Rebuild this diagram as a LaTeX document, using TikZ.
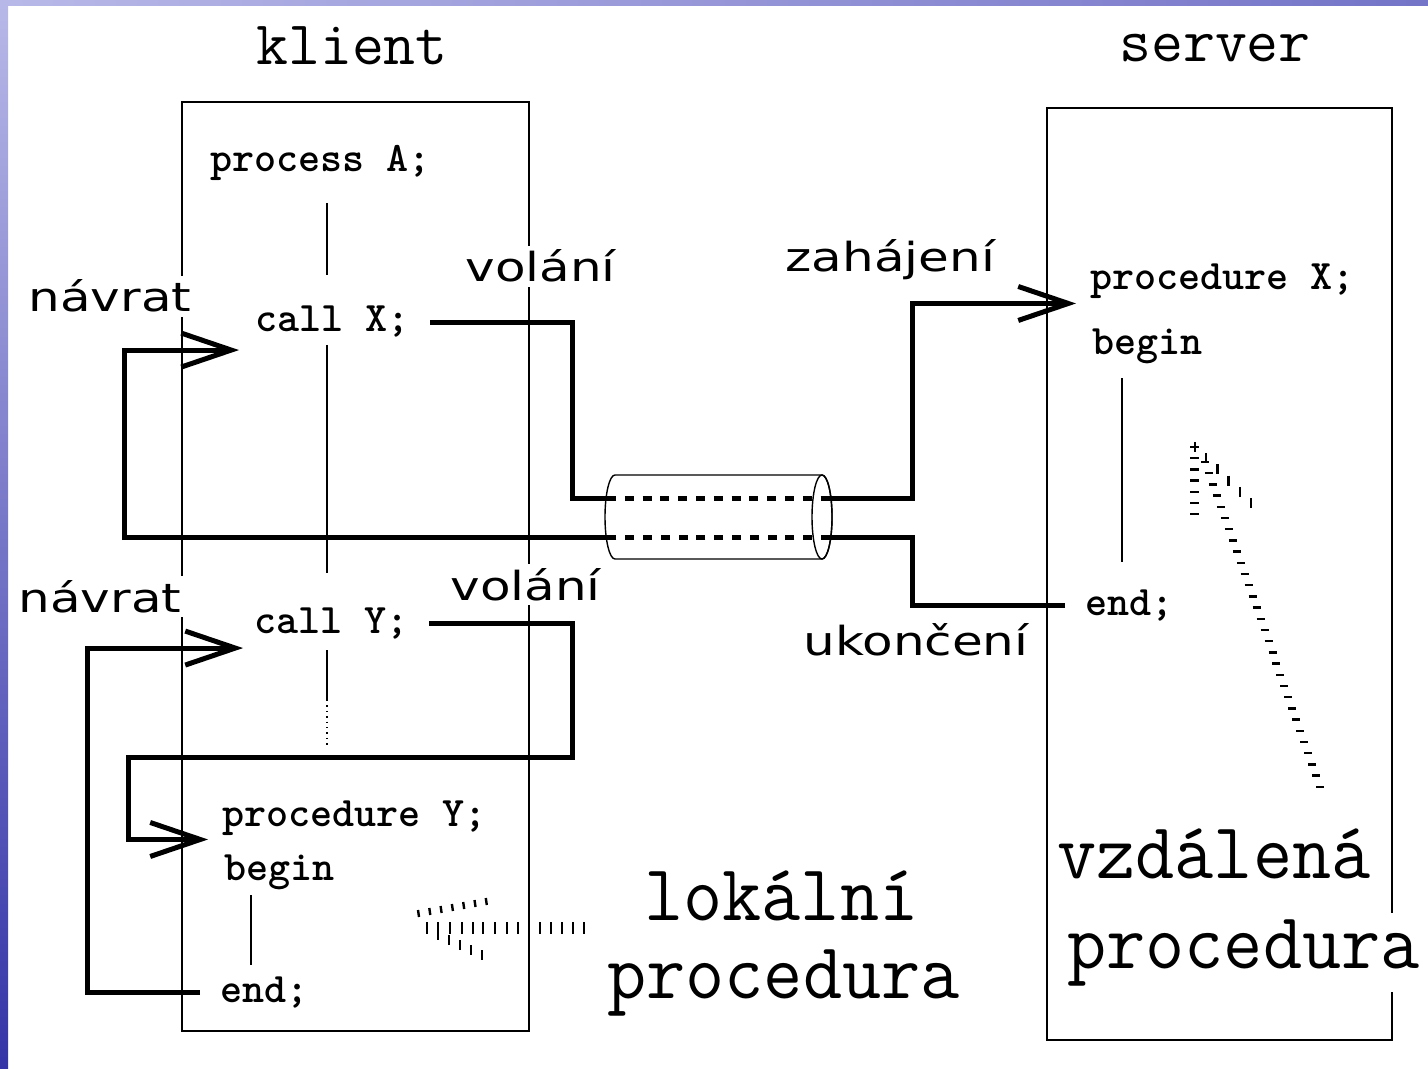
\documentclass[tikz,border=0pt]{standalone}
\usepackage{fontspec}
\usepackage{tikz}
\usetikzlibrary{arrows.meta}

\newfontfamily\labelfont{DejaVu Sans}
\definecolor{slidelight}{HTML}{B8B8E8}
\definecolor{slidedark}{HTML}{3434A8}
\definecolor{slidemid}{HTML}{7474C8}

\begin{document}
\begin{tikzpicture}[x=0.5pt, y=-0.5pt,
    code/.style={anchor=base west, inner sep=2pt, font=\fontsize{21}{25}\selectfont\ttfamily\bfseries},
    big/.style={anchor=base west, inner sep=0.5pt, yscale=1.05, font=\fontsize{38}{44}\selectfont\ttfamily},
    head/.style={anchor=base, font=\fontsize{31}{36}\selectfont\ttfamily},
    tag/.style={anchor=base west, inner sep=2pt, fill=white, xscale=1.25, font=\fontsize{20}{24}\selectfont\labelfont},
    box/.style={line width=0.75pt},
    life/.style={line width=0.7pt},
    flow/.style={line width=2.5pt, line join=miter},
    arr/.style={-{Straight Barb[length=25pt, width=17pt]}},
    pipe/.style={line width=2.5pt, dash pattern=on 4.5pt off 4.4pt},
    tick/.style={line width=1.2pt}
]
    \useasboundingbox (0,0) rectangle (1428,1069);

    % VORA DE LA DIAPOSITIVA
    \shade[top color=slidelight, bottom color=slidedark] (0,0) rectangle (8,1069);
    \shade[left color=slidelight, right color=slidemid] (0,0) rectangle (1428,6);

    % CAPCALERES
    \node[head] (klient) at (352,65) {klient};
    \node[head] (server) at (1215,62) {server};

    % CAIXES
    \draw[box] (182,102) rectangle (529,1031);
    \draw[box] (1047,108) rectangle (1392,1040);

    % CODI DEL CLIENT
    \node[code] (procA) at (206,172) {process A;};
    \node[code] (callX) at (251,332) {call X;};
    \node[code] (callY) at (250,633) {call Y;};
    \node[code] (procY) at (218,826) {procedure Y;};
    \node[code] (beginY) at (220,880) {begin};
    \node[code] (endY) at (216,1002) {end;};

    % CODI DEL SERVIDOR
    \node[code] (procX) at (1086,290) {procedure X;};
    \node[code] (beginX) at (1088,355) {begin};
    \node[code] (endX) at (1081,615) {end;};

    % LINIES DE VIDA
    \draw[life] (327,203) -- (327,275);
    \draw[life] (327,345) -- (327,573);
    \draw[life] (327,650) -- (327,700);
    \draw[life, dotted] (327,700) -- (327,745);
    \draw[life] (251,895) -- (251,965);
    \draw[life] (1122,378) -- (1122,562);

    % CANAL (cilindre)
    \draw[line width=0.7pt, fill=white] (615,475) -- (822,475)
        arc[start angle=-90, end angle=90, x radius=10, y radius=42] -- (615,559)
        arc[start angle=90, end angle=270, x radius=10, y radius=42] -- cycle;
    \draw[line width=0.7pt] (822,517) ellipse[x radius=10, y radius=42];

    % punts de pas
    \coordinate (xdown) at (572,498);
    \coordinate (pipeInA) at (607,498);
    \coordinate (pipeOutA) at (830,498);
    \coordinate (xup) at (912,498);
    \coordinate (xback) at (912,537);
    \coordinate (pipeOutB) at (830,537);
    \coordinate (pipeInB) at (607,537);
    \coordinate (xleft) at (124,537);
    \coordinate (ydown) at (572,757);
    \coordinate (yleft) at (128,757);
    \coordinate (yret) at (87,800);

    \draw[pipe] (pipeInA) -- (pipeOutA);
    \draw[pipe] (pipeOutB) -- (pipeInB);

    % CRIDA REMOTA
    \draw[flow] ([xshift=8pt]callX.east) -| (xdown) -- (pipeInA);
    \draw[flow, arr] (pipeOutA) -- (xup) |- ([xshift=-5pt]procX.south west);
    \draw[flow] ([xshift=-8pt]endX.west) -| (xback) -- (pipeOutB);
    \draw[flow, arr] (pipeInB) -- (xleft) |- ([xshift=-6pt, yshift=-4pt]callX.south west);

    % CRIDA LOCAL
    \draw[flow, arr] ([xshift=8pt]callY.east) -| (ydown) -- (yleft) |- ([xshift=-5pt]procY.south west);
    \draw[flow, arr] ([xshift=-8pt]endY.west) -| (yret) |- ([xshift=-3.5pt, yshift=-2.5pt]callY.south west);

    % ETIQUETES
    \node[tag] (ret1) at (23,312) {návrat};
    \node[tag] (call1) at (460,282) {volání};
    \node[tag] (start) at (780,272) {zahájení};
    \node[tag] (ret2) at (13,612) {návrat};
    \node[tag] (call2) at (445,600) {volání};
    \node[tag] (stop) at (798,655) {ukončení};

    % PROCEDURES
    \node[big] (localA) at (643,920) {lokální};
    \node[big] (localB) at (606,998) {procedura};
    \node[big] (remoteA) at (1056,878) {vzdálená};
    \node[big, fill=white, inner sep=3pt] (remoteB) at (1061,968) {procedura};

    % fletxa esvaida local
    \foreach \i in {0,...,6}
        \draw[tick] ({418+\i*11.3},{910-\i*2}) -- ++(1,7);
    \foreach \x in {427,438,450,462,473,483,495,507,518,540,551,562,573,584}
        \draw[tick] (\x,922) -- ++(0,12);
    \foreach \i in {0,...,4}
        \draw[tick] ({438+\i*11},{930+\i*5}) -- ++(0,10);

    % fletxa esvaida remota
    \foreach \i in {0,...,29}
        \draw[tick] ({1201+\i*3.97},{462+\i*11.2}) -- ++(8,0);
    \foreach \i in {0,...,6}
        \draw[tick] (1190,{447+\i*11.2}) -- ++(9,0);
    \foreach \i in {0,...,5}
        \draw[tick] ({1195+\i*11.2},{442+\i*11.2}) -- ++(0,10);
\end{tikzpicture}
\end{document}
